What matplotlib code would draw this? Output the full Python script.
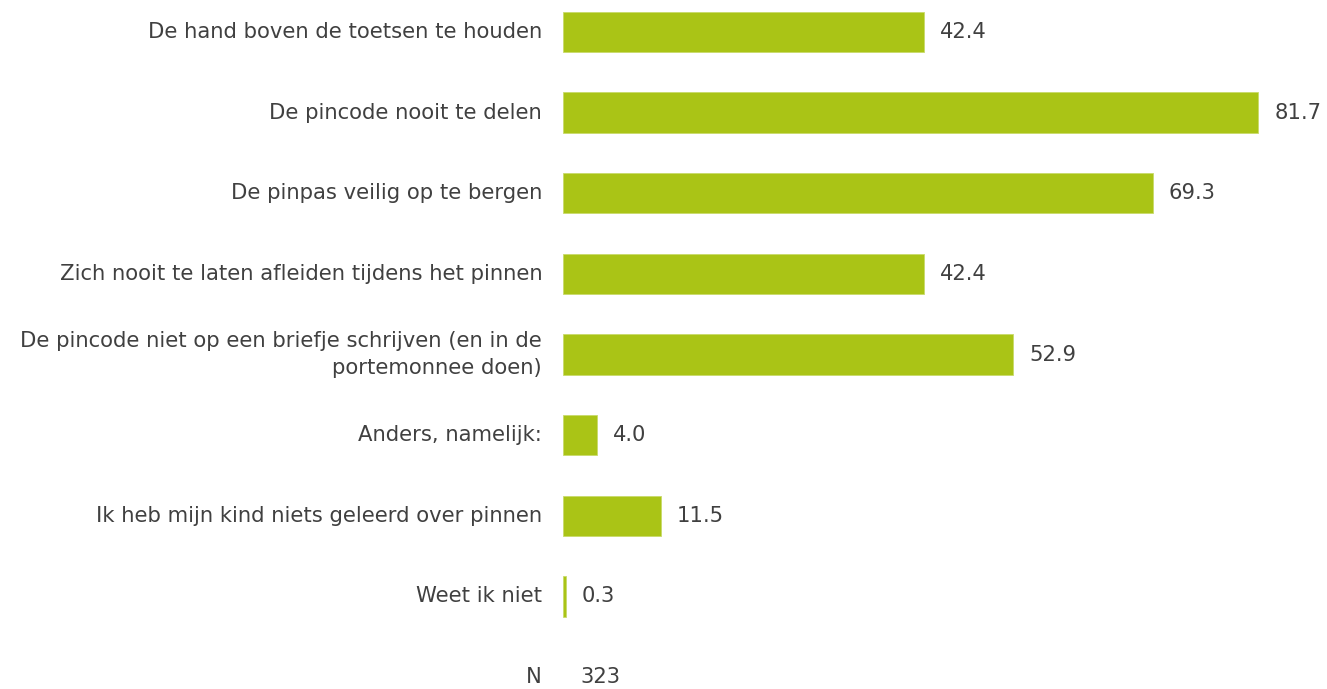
import numpy as np
import matplotlib
matplotlib.use("Agg")
import matplotlib.pyplot as plt

categories = [
    "De hand boven de toetsen te houden",
    "De pincode nooit te delen",
    "De pinpas veilig op te bergen",
    "Zich nooit te laten afleiden tijdens het pinnen",
    "De pincode niet op een briefje schrijven (en in de\nportemonnee doen)",
    "Anders, namelijk:",
    "Ik heb mijn kind niets geleerd over pinnen",
    "Weet ik niet",
]
values = [42.4, 81.7, 69.3, 42.4, 52.9, 4.0, 11.5, 0.3]
n_label = "N"
n_value = 323

bar_color = "#aac416"
text_color = "#404040"
fs = 15.2

plt.rcParams['font.family'] = ['DejaVu Sans']

fig = plt.figure(figsize=(13.27, 6.89), dpi=100)
ax = fig.add_axes([563 / 1327, 0, 1 - 563 / 1327, 1])

y = np.arange(len(categories))
ax.barh(y, values, height=0.5, color=bar_color, edgecolor="#c9da6a", linewidth=0.6)

for yi, v in zip(y, values):
    ax.annotate(f"{v:.1f}", (v, yi), xytext=(16, 0), textcoords="offset pixels",
                va="center", ha="left", fontsize=fs, color=text_color)

ny = len(categories)
ax.annotate(str(n_value), (0, ny), xytext=(17, 0), textcoords="offset pixels",
            va="center", ha="left", fontsize=fs, color=text_color)

ax.set_yticks(list(y) + [ny])
ax.set_yticklabels(categories + [n_label], fontsize=fs, color=text_color)
for lab in ax.get_yticklabels():
    lab.set_linespacing(1.4)
    lab.set_verticalalignment("center")
ax.tick_params(axis="y", length=0, pad=15)
ax.tick_params(axis="x", bottom=False, labelbottom=False)

ax.set_xlim(0, (1327 - 563) / 8.51)
ax.set_ylim(ny + 12 / 80.6, -32 / 80.6)
for s in ax.spines.values():
    s.set_visible(False)

fig.savefig("out.png", dpi=100)
